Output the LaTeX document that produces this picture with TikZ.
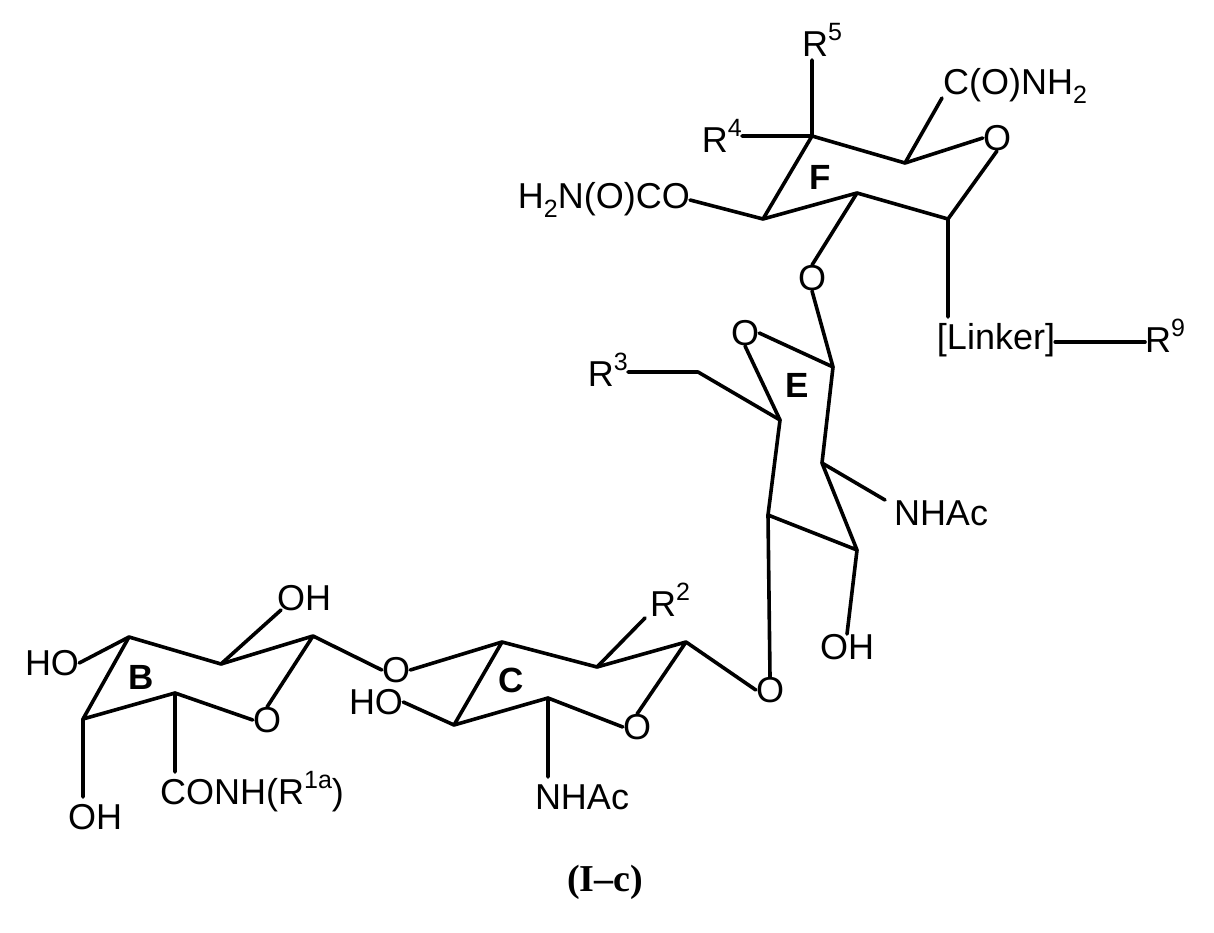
\documentclass[tikz,border=0pt]{standalone}
\usepackage{fontspec}
\setmainfont{Liberation Sans}
\newfontfamily\capfont{Liberation Serif}
\newcommand\supx[1]{\raisebox{0.45em}{\fontsize{25}{25}\selectfont #1}}
\newcommand\subx[1]{\raisebox{-0.25em}{\fontsize{25}{25}\selectfont #1}}
\begin{document}
\begin{tikzpicture}[x=1pt,y=-1pt,
  bond/.style={line width=3.6pt,line cap=round,line join=round},
  lab/.style={font=\fontsize{36}{40}\selectfont,inner sep=0pt},
  rl/.style={font=\fontsize{35}{40}\selectfont\bfseries,inner sep=0pt}]
\useasboundingbox (0,0) rectangle (1214,933);
% F ring
\coordinate (f4) at (812,136); \coordinate (f5) at (905,163);
\coordinate (f1) at (948,219); \coordinate (f2) at (857,193);
\coordinate (f3) at (763,219);
\coordinate (r5e) at (812,60); \coordinate (amE) at (942,98);
\coordinate (lkE) at (948,317);
\node[lab] (fO) at (997,138) {O};
\node[lab] (r5) at (822,40) {R\supx{5}};
\node[lab,anchor=east] (r4) at (742,136) {R\supx{4}};
\node[lab,anchor=east] (carb) at (690,200) {H\subx{2}N(O)CO};
\node[lab] (amide) at (1015,86) {C(O)NH\subx{2}};
\node[rl] (F) at (820,177) {F};
\node[lab] (oFE) at (812,278) {O};
\node[lab] (link) at (996,340) {[Linker]};
\node[lab,anchor=west] (r9) at (1145,336) {R\supx{9}};
\draw[bond] (f4)--(f5)--(fO.west) (fO.south)--(f1)--(f2)--(f3)--(f4);
\draw[bond] (f4)--(r5e) (f4)--(r4.east) (f3)--(carb.east) (f5)--(amE);
\draw[bond] (f2)--(oFE.north) (f1)--(lkE);
\draw[bond] (link.east|-0,342)--(r9.west|-0,342);
% E ring
\coordinate (e1) at (833,367); \coordinate (e2) at (822,463);
\coordinate (e3) at (857,550); \coordinate (e4) at (768,515);
\coordinate (e5) at (780,420); \coordinate (e6) at (698,372);
\coordinate (nE) at (885,500);
\node[lab] (eO) at (745,333) {O};
\node[lab,anchor=east] (r3) at (628,370) {R\supx{3}};
\node[rl] (E) at (797,385) {E};
\node[lab] (nhacE) at (941,513) {NHAc};
\node[lab] (ohE) at (847,647) {OH};
\node[lab] (oEC) at (770,690) {O};
\draw[bond] (oFE.south)--(e1)--(e2)--(e3)--(e4)--(e5)--(eO.south) (eO.east)--(e1);
\draw[bond] (e5)--(e6)--(r3.east|-e6) (e2)--(nE) (e3)--(ohE.north) (e4)--(oEC.north);
% C ring
\coordinate (c1) at (686,642); \coordinate (c2) at (597,667);
\coordinate (c3) at (502,642); \coordinate (c4) at (454,725);
\coordinate (c5) at (548,698);
\coordinate (r2e) at (645,618); \coordinate (nC) at (548,777);
\node[lab] (cO) at (637,727) {O};
\node[lab] (r2) at (670,600) {R\supx{2}};
\node[lab] (nhacC) at (582,797) {NHAc};
\node[lab] (hoC) at (376,702) {HO};
\node[rl] (C) at (511,680) {C};
\node[lab] (oBC) at (396,670) {O};
\draw[bond] (oEC.west)--(c1)--(c2)--(c3)--(c4)--(c5)--(cO.west) (cO.north)--(c1);
\draw[bond] (c2)--(r2e) (c5)--(nC) (c4)--(hoC.east) (c3)--(oBC.east);
% B ring
\coordinate (b1) at (313,636); \coordinate (b2) at (221,664);
\coordinate (b3) at (129,637); \coordinate (b4) at (83,719);
\coordinate (b5) at (175,693);
\coordinate (oh1e) at (281,610); \coordinate (oh2e) at (83,797); \coordinate (cne) at (175,772);
\node[lab] (bO) at (267,720) {O};
\node[lab] (ohB1) at (304,598) {OH};
\node[lab] (hoB) at (52,663) {HO};
\node[lab] (ohB2) at (95,817) {OH};
\node[lab,anchor=west] (conh) at (160,792) {CONH(R\supx{1a})};
\node[rl] (B) at (141,677) {B};
\draw[bond] (oBC.west)--(b1)--(b2)--(b3)--(b4)--(b5)--(bO.west) (bO.north)--(b1);
\draw[bond] (b2)--(oh1e) (b3)--(hoB.east) (b4)--(oh2e) (b5)--(cne);
\node[font=\capfont\fontsize{38}{44}\selectfont\bfseries] (cap) at (605,882) {(I–c)};
\end{tikzpicture}
\end{document}
